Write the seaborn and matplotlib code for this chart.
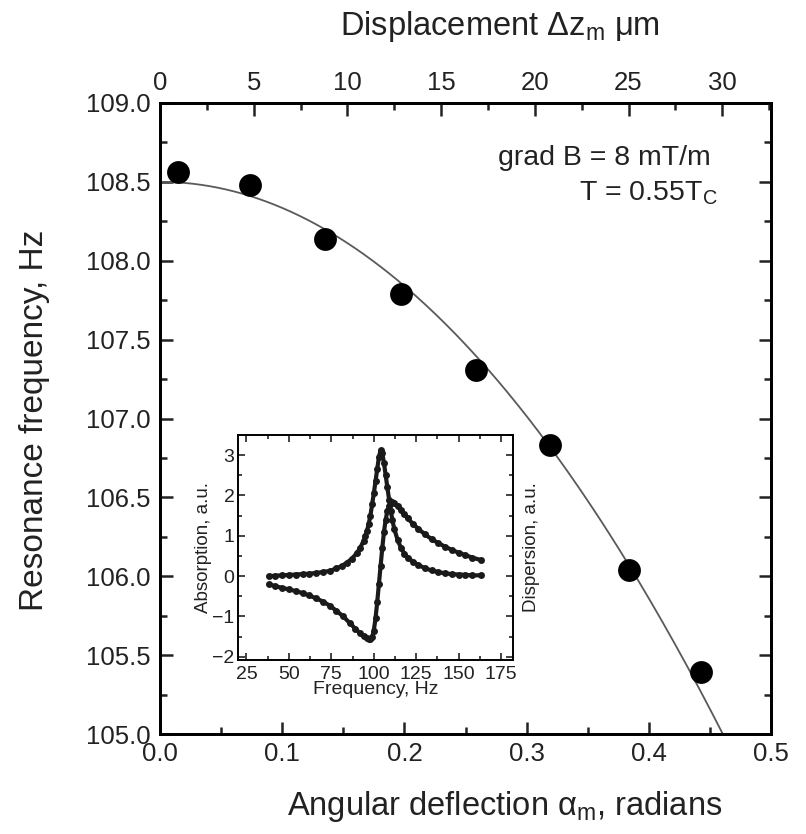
import numpy as np
import pandas as pd
import matplotlib
matplotlib.use("Agg")
import matplotlib.pyplot as plt
from matplotlib.ticker import MultipleLocator, FormatStrFormatter
import seaborn as sns

# Measured resonance frequency vs angular deflection
alpha_rad = [0.015, 0.074, 0.135, 0.197, 0.259, 0.319, 0.384, 0.443]
freq_hz = [108.565, 108.48, 108.14, 107.79, 107.31, 106.83, 106.04, 105.395]

# Parabolic fit f = f0 - k * alpha^2
fit_f0 = 108.5
fit_k = 16.5

# Displacement scale on the top axis (um at alpha = 0.5 rad)
dz_at_half_rad = 32.6

# Inset: resonance line shape
abs_freq = [38, 42, 46, 50, 54, 58, 62, 66, 70, 74, 78, 81, 84, 87, 90, 92, 94, 95,
            96, 97, 98, 99, 100, 101, 102, 103, 104, 105, 106, 107, 108, 109, 110,
            111, 112, 114, 116, 118, 120, 123, 126, 130, 134, 138, 142, 146, 150,
            154, 158, 163]
abs_val = [0.0, 0.01, 0.02, 0.03, 0.04, 0.05, 0.06, 0.08, 0.10, 0.13, 0.19, 0.25,
           0.33, 0.43, 0.57, 0.70, 0.88, 1.0, 1.12, 1.3, 1.5, 1.78, 2.05, 2.35, 2.65,
           2.95, 3.12, 3.05, 2.8, 2.5, 2.2, 1.9, 1.62, 1.38, 1.18, 0.9, 0.7, 0.56,
           0.46, 0.36, 0.28, 0.2, 0.14, 0.1, 0.07, 0.05, 0.04, 0.03, 0.02, 0.02]
disp_freq = [38, 42, 46, 50, 54, 58, 62, 66, 70, 74, 78, 82, 86, 89, 92, 94, 96, 97,
             98, 99, 100, 101, 102, 103, 104, 105, 106, 107, 108, 109, 110, 111, 112,
             114, 116, 118, 120, 123, 126, 130, 134, 138, 142, 146, 150, 154, 158, 163]
disp_val = [-0.20, -0.25, -0.29, -0.33, -0.37, -0.42, -0.48, -0.55, -0.63, -0.73,
            -0.86, -1.0, -1.17, -1.3, -1.42, -1.49, -1.54, -1.56, -1.57, -1.52, -1.35,
            -1.05, -0.65, -0.2, 0.25, 0.7, 1.1, 1.4, 1.62, 1.75, 1.82, 1.84, 1.82,
            1.74, 1.64, 1.53, 1.43, 1.3, 1.18, 1.04, 0.92, 0.82, 0.73, 0.65, 0.58,
            0.52, 0.46, 0.40]

sns.set_theme(style="ticks")
plt.rcParams["font.family"] = ["Liberation Sans", "DejaVu Sans"]
plt.rcParams["mathtext.fontset"] = "custom"
plt.rcParams["mathtext.rm"] = "Liberation Sans"
plt.rcParams["mathtext.it"] = "Liberation Sans:italic"
plt.rcParams["mathtext.default"] = "regular"

W, H = 806, 834
fig = plt.figure(figsize=(W / 100, H / 100), dpi=100)
ax = fig.add_axes([160 / W, 1 - 734 / H, 611 / W, 631 / H])

pts = pd.DataFrame({"alpha": alpha_rad, "freq": freq_hz})
a_grid = np.linspace(0, 0.5, 300)
fit = pd.DataFrame({"alpha": a_grid, "freq": fit_f0 - fit_k * a_grid ** 2})

sns.lineplot(data=fit, x="alpha", y="freq", ax=ax, color="#5a5a5a", lw=1.3)
sns.scatterplot(data=pts, x="alpha", y="freq", ax=ax, s=270, color="black",
                edgecolor="black", linewidth=0, zorder=5)

ax.set_xlim(0, 0.5)
ax.set_ylim(105.0, 109.0)
ax.xaxis.set_major_locator(MultipleLocator(0.1))
ax.xaxis.set_minor_locator(MultipleLocator(0.05))
ax.yaxis.set_major_locator(MultipleLocator(0.5))
ax.yaxis.set_minor_locator(MultipleLocator(0.25))
ax.xaxis.set_major_formatter(FormatStrFormatter("%.1f"))
ax.yaxis.set_major_formatter(FormatStrFormatter("%.1f"))
ax.tick_params(which="both", direction="in", right=True, top=False,
               labelsize=18.5, width=1.8, colors="#222222", pad=6)
ax.tick_params(axis="y", pad=7)
ax.tick_params(which="major", length=9)
ax.tick_params(which="minor", length=5)
for s in ax.spines.values():
    s.set_linewidth(2.0)
    s.set_color("black")
ax.set_xlabel("")
ax.set_ylabel("")

top = ax.twiny()
top.set_xlim(0, dz_at_half_rad)
top.xaxis.set_major_locator(MultipleLocator(5))
top.xaxis.set_minor_locator(MultipleLocator(2.5))
top.tick_params(which="both", direction="in", labelsize=18.5, width=1.8,
                colors="#222222", pad=6)
top.tick_params(which="major", length=9)
top.tick_params(which="minor", length=5)
for s in top.spines.values():
    s.set_linewidth(2.0)
    s.set_color("black")

fig.text(500 / W, 1 - 26 / H, r"Displacement $\Delta$z$_m$ $\mu$m",
         ha="center", va="center", fontsize=23.5, color="#222222")
fig.text(505 / W, 1 - 806 / H, r"Angular deflection $\alpha_m$, radians",
         ha="center", va="center", fontsize=23.5, color="#222222")
fig.text(35 / W, 1 - 420 / H, "Resonance frequency, Hz", rotation=90,
         ha="center", va="center", fontsize=24, color="#222222")

fig.text(711 / W, 1 - 158 / H, "grad B = 8 mT/m", ha="right", va="center",
         fontsize=20.5, color="#222222")
fig.text(718 / W, 1 - 193 / H, r"T = 0.55T$_C$", ha="right", va="center",
         fontsize=20.5, color="#222222")

# Inset with absorption and dispersion line shapes
ins = fig.add_axes([238 / W, 1 - 660 / H, 275 / W, 225 / H])
absorp = pd.DataFrame({"f": abs_freq, "v": abs_val})
disp = pd.DataFrame({"f": disp_freq, "v": disp_val})
for d in (absorp, disp):
    sns.lineplot(data=d, x="f", y="v", ax=ins, color="#1a1a1a", lw=3.0,
                 marker="o", markersize=5, markeredgewidth=0)
ins.set_xlim(20, 182)
ins.set_ylim(-2.08, 3.5)
ins.xaxis.set_major_locator(MultipleLocator(25))
ins.xaxis.set_minor_locator(MultipleLocator(12.5))
ins.yaxis.set_major_locator(MultipleLocator(1))
ins.yaxis.set_minor_locator(MultipleLocator(0.5))
ins.tick_params(which="both", direction="in", top=True, right=True,
                labelsize=14, width=1.2, pad=2.5, colors="#222222")
ins.tick_params(axis="x", pad=4)
ins.tick_params(which="major", length=5)
ins.tick_params(which="minor", length=3)
for s in ins.spines.values():
    s.set_linewidth(1.4)
    s.set_color("black")
ins.set_xlabel("Frequency, Hz", fontsize=14, labelpad=-1, color="#222222")
ins.set_ylabel("Absorption, a.u.", fontsize=13.5, labelpad=0, color="#222222")
ins.text(1.035, 0.5, "Dispersion, a.u.", transform=ins.transAxes, rotation=90,
         ha="left", va="center", fontsize=13.5, color="#222222")

fig.savefig("out.png", dpi=100)
